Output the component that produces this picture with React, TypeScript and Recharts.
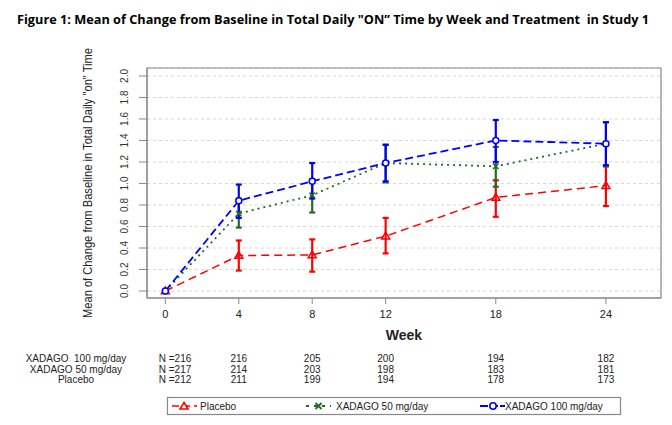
import React from "react";
import {
  CartesianGrid,
  ErrorBar,
  Line,
  LineChart,
  ReferenceArea,
  XAxis,
  YAxis,
} from "recharts";

const weeks = [0, 4, 8, 12, 18, 24];
const yTicks = [0, 0.2, 0.4, 0.6, 0.8, 1.0, 1.2, 1.4, 1.6, 1.8, 2.0];

const placeboMean = [0, 0.33, 0.335, 0.51, 0.87, 0.98];
const placeboLow = [0, 0.19, 0.18, 0.35, 0.69, 0.79];
const placeboHigh = [0, 0.47, 0.48, 0.68, 1.03, 1.16];

const x50Mean = [0, 0.72, 0.89, 1.19, 1.16, 1.37];
const x50Low = [0, 0.59, 0.73, 1.01, 0.97, 1.16];
const x50High = [0, 0.86, 1.04, 1.36, 1.34, 1.57];

const x100Mean = [0, 0.84, 1.02, 1.19, 1.4, 1.37];
const x100Low = [0, 0.68, 0.86, 1.02, 1.2, 1.17];
const x100High = [0, 0.99, 1.19, 1.36, 1.59, 1.57];

const rowLabels = ["XADAGO  100 mg/day", "XADAGO 50 mg/day", "Placebo"];
const n100 = [216, 216, 205, 200, 194, 182];
const n50 = [217, 214, 203, 198, 183, 181];
const nPlacebo = [212, 211, 199, 194, 178, 173];

const RED = "#ff0000";
const GREEN = "#1f6e1f";
const BLUE = "#0000ff";

const X_DOMAIN = [-1, 27];
const Y_DOMAIN = [-0.065, 2.074];
const PLOT_LEFT = 147;
const PLOT_RIGHT = 661;

const err = (m: number, lo: number, hi: number, i: number) =>
  i === 0 ? null : [+(m - lo).toFixed(3), +(hi - m).toFixed(3)];

const rows = weeks.map((week, i) => ({
  week,
  placebo: placeboMean[i],
  placeboErr: err(placeboMean[i], placeboLow[i], placeboHigh[i], i),
  x50: x50Mean[i],
  x50Err: err(x50Mean[i], x50Low[i], x50High[i], i),
  x100: x100Mean[i],
  x100Err: err(x100Mean[i], x100Low[i], x100High[i], i),
}));

// horizontal position of a week for the N table under the axis
const weekX = (w: number) =>
  PLOT_LEFT + ((w - X_DOMAIN[0]) / (X_DOMAIN[1] - X_DOMAIN[0])) * (PLOT_RIGHT - PLOT_LEFT);

function Triangle({ cx, cy }: any) {
  if (cx == null || cy == null) return null;
  return (
    <path
      d={`M${cx},${cy - 4} L${cx + 4},${cy + 2.8} L${cx - 4},${cy + 2.8} Z`}
      fill="none"
      stroke={RED}
      strokeWidth={1.5}
    />
  );
}

function Cross({ cx, cy }: any) {
  if (cx == null || cy == null) return null;
  return (
    <path
      d={`M${cx - 2.7},${cy - 2.7} L${cx + 2.7},${cy + 2.7} M${cx - 2.7},${cy + 2.7} L${cx + 2.7},${cy - 2.7}`}
      stroke={GREEN}
      strokeWidth={1.5}
    />
  );
}

function Circle({ cx, cy }: any) {
  if (cx == null || cy == null) return null;
  return <circle cx={cx} cy={cy} r={3} fill="#fff" stroke={BLUE} strokeWidth={1.5} />;
}

const textFont = "Liberation Sans, Arial, sans-serif";

function YTick({ x, y, payload }: any) {
  return (
    <text
      transform={`translate(${x - 9},${y}) rotate(-90)`}
      textAnchor="middle"
      fontSize={10}
      fill="#333"
      fontFamily={textFont}
    >
      {Number(payload.value).toFixed(1)}
    </text>
  );
}

export default function App() {
  const tableRows = [n100, n50, nPlacebo];
  const rowY = [362, 373, 383];

  return (
    <div
      style={{
        position: "absolute",
        left: 0,
        top: 0,
        width: 672,
        height: 425,
        background: "#fff",
      }}
    >
      <LineChart
        width={672}
        height={425}
        data={rows}
        margin={{ top: 68, right: 11, bottom: 97, left: 0 }}
      >
        <CartesianGrid vertical={false} strokeDasharray="3 3" stroke="#d6d6d6" />
        <XAxis
          dataKey="week"
          type="number"
          domain={X_DOMAIN}
          allowDataOverflow
          ticks={weeks}
          interval={0}
          height={30}
          tickSize={6}
          tickMargin={6}
          stroke="#888"
          tick={{ fill: "#222", fontSize: 11, fontFamily: textFont }}
        />
        <YAxis
          type="number"
          domain={Y_DOMAIN}
          allowDataOverflow
          ticks={yTicks}
          interval={0}
          width={147}
          tickSize={8}
          stroke="#888"
          tick={<YTick />}
        />
        <ReferenceArea
          x1={X_DOMAIN[0]}
          x2={X_DOMAIN[1]}
          y1={Y_DOMAIN[0]}
          y2={Y_DOMAIN[1]}
          fill="none"
          stroke="#888"
          strokeWidth={1.2}
        />
        <Line
          dataKey="placebo"
          stroke={RED}
          strokeWidth={1.5}
          strokeDasharray="8 5"
          dot={<Triangle />}
          isAnimationActive={false}
        >
          <ErrorBar dataKey="placeboErr" direction="y" width={3} stroke={RED} strokeWidth={2.2} />
        </Line>
        <Line
          dataKey="x50"
          stroke={GREEN}
          strokeWidth={1.8}
          strokeDasharray="2 4"
          dot={<Cross />}
          isAnimationActive={false}
        >
          <ErrorBar dataKey="x50Err" direction="y" width={3} stroke={GREEN} strokeWidth={2.2} />
        </Line>
        <Line
          dataKey="x100"
          stroke={BLUE}
          strokeWidth={1.8}
          strokeDasharray="8 4"
          dot={<Circle />}
          isAnimationActive={false}
        >
          <ErrorBar dataKey="x100Err" direction="y" width={3} stroke={BLUE} strokeWidth={2.2} />
        </Line>
      </LineChart>

      <svg
        width={672}
        height={425}
        style={{ position: "absolute", left: 0, top: 0, pointerEvents: "none" }}
      >
        <text
          x={17}
          y={24}
          fontFamily="Open Sans, Liberation Sans, sans-serif"
          fontWeight={700}
          fontSize={13}
          textLength={632}
          lengthAdjust="spacingAndGlyphs"
          style={{ whiteSpace: "pre" }}
          fill="#000"
        >
          {'Figure 1: Mean of Change from Baseline in Total Daily "ON\u201d Time by Week and Treatment  in Study 1'}
        </text>
        <text
          transform="translate(92,183) rotate(-90)"
          textAnchor="middle"
          fontFamily={textFont}
          fontSize={12.5}
          textLength={270}
          lengthAdjust="spacingAndGlyphs"
          fill="#222"
        >
          Mean of Change from Baseline in Total Daily "on" Time
        </text>
        <text
          x={404}
          y={340}
          textAnchor="middle"
          fontFamily={textFont}
          fontWeight={700}
          fontSize={14}
          fill="#222"
        >
          Week
        </text>

        {tableRows.map((vals, r) => (
          <g key={r} fontFamily={textFont} fontSize={10} fill="#222">
            <text x={76} y={rowY[r]} textAnchor="middle" style={{ whiteSpace: "pre" }}>
              {rowLabels[r]}
            </text>
            {vals.map((v, i) => (
              <text
                key={i}
                x={i === 0 ? 175 : weekX(weeks[i])}
                y={rowY[r]}
                textAnchor="middle"
              >
                {i === 0 ? `N =${v}` : v}
              </text>
            ))}
          </g>
        ))}

        <rect x={167.5} y={397.5} width={453} height={17} fill="#fff" stroke="#888" strokeWidth={1.2} />
        <g fontFamily={textFont} fontSize={10} fill="#222">
          <line x1={172} y1={406} x2={197} y2={406} stroke={RED} strokeWidth={1.6} strokeDasharray="7 4" />
          <path d="M184,402.5 L188,409 L180,409 Z" fill="#fff" stroke={RED} strokeWidth={1.6} />
          <text x={200} y={409.5}>Placebo</text>

          <line x1={306} y1={406} x2={331} y2={406} stroke={GREEN} strokeWidth={1.8} strokeDasharray="3 5" />
          <path d="M315.5,403 L321.5,409 M315.5,409 L321.5,403" stroke={GREEN} strokeWidth={1.8} />
          <text x={336} y={409.5}>XADAGO 50 mg/day</text>

          <line x1={480} y1={406} x2={505} y2={406} stroke={BLUE} strokeWidth={1.8} strokeDasharray="8 2" />
          <circle cx={493} cy={406} r={3.2} fill="#fff" stroke={BLUE} strokeWidth={1.6} />
          <text x={505} y={409.5}>XADAGO 100 mg/day</text>
        </g>
      </svg>
    </div>
  );
}
